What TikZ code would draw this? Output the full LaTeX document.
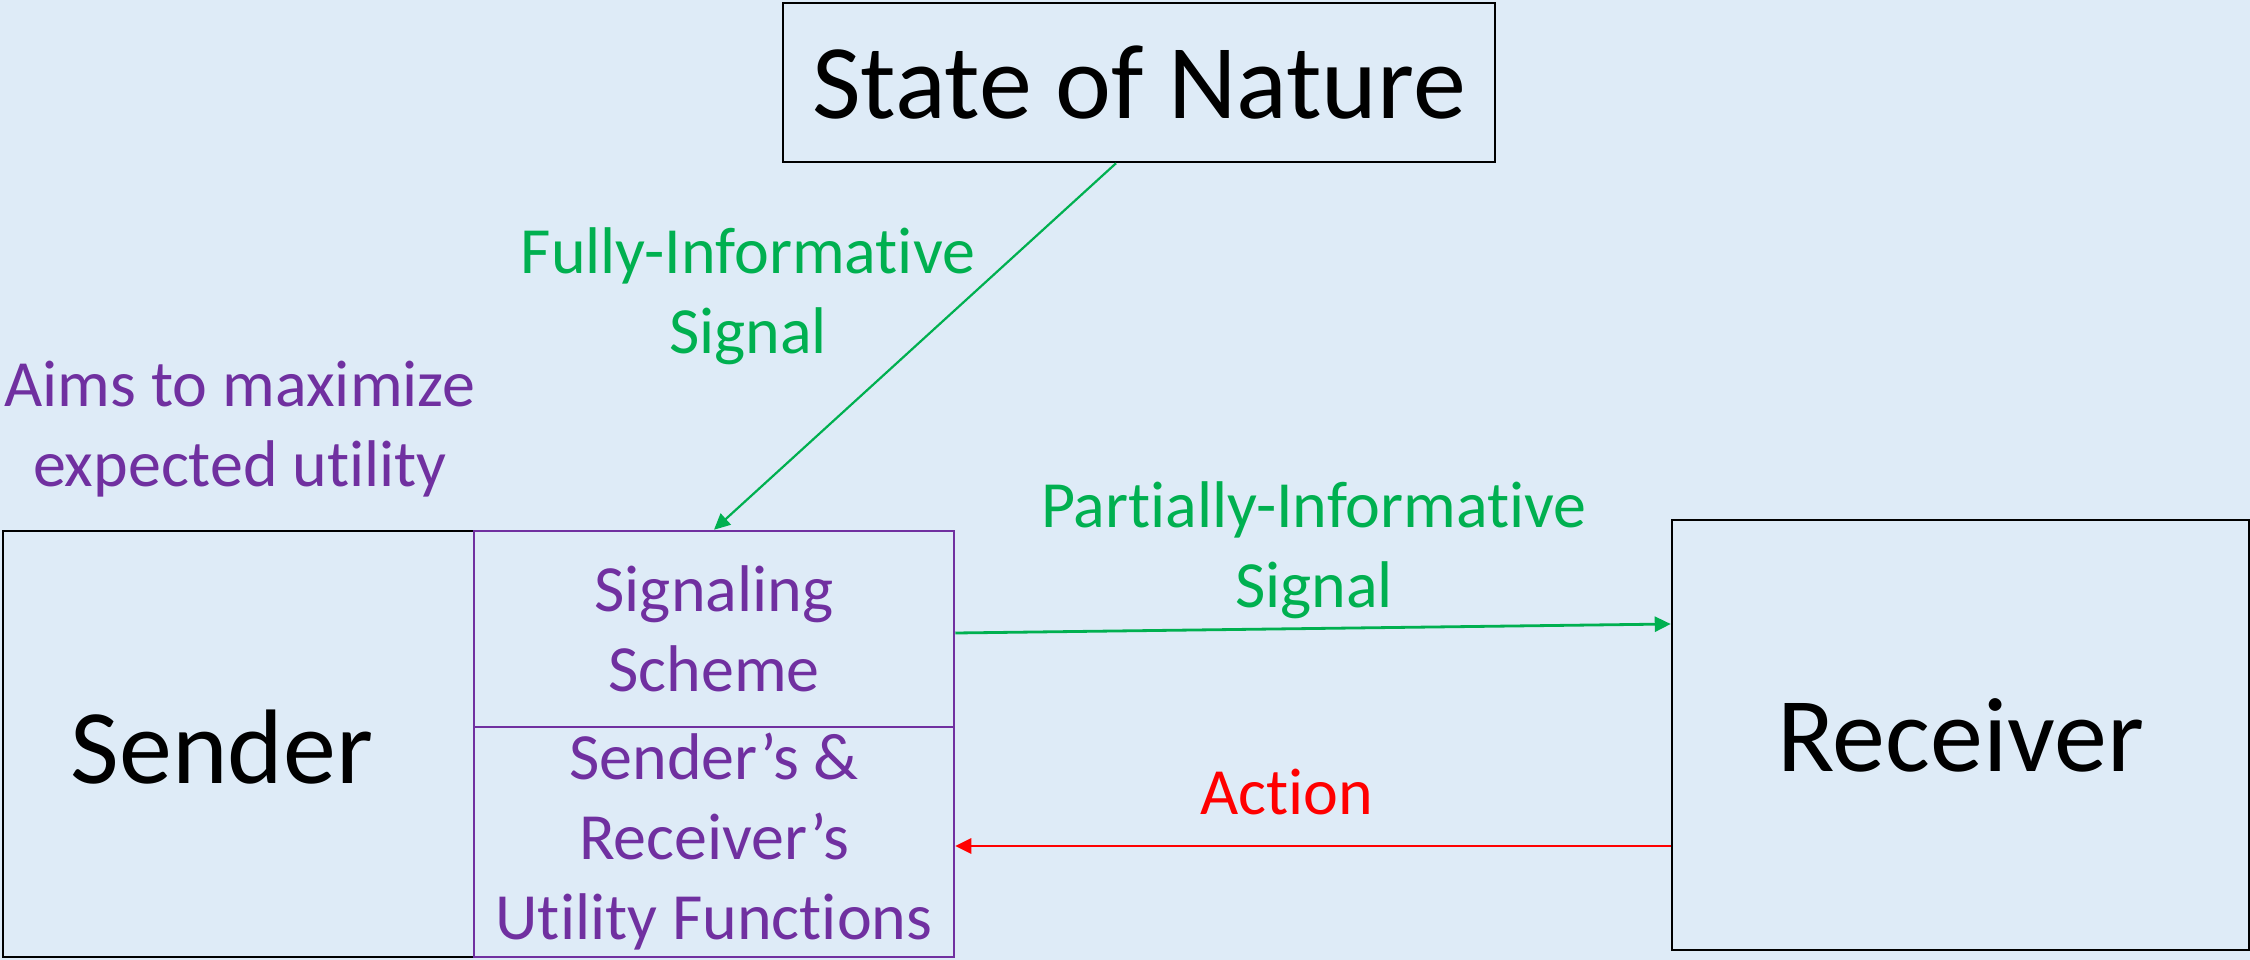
\documentclass[tikz,border=0pt]{standalone}
\usepackage{fontspec}
\setmainfont{Carlito}[Ligatures=NoCommon]
\usetikzlibrary{arrows.meta}
\definecolor{bg}{HTML}{DEEBF7}
\definecolor{purp}{HTML}{7030A0}
\definecolor{grn}{HTML}{00B050}
\definecolor{rd}{HTML}{FF0000}
\tikzset{
  bigbox/.style={draw=black, line width=2.5pt, fill=bg, inner sep=0pt, font=\fontsize{106}{125}\selectfont},
  purpbox/.style={draw=purp, line width=2.5pt, fill=bg, inner sep=0pt, text=purp, align=center, font=\fontsize{66}{80}\selectfont},
  lbl/.style={inner sep=0pt, align=center, font=\fontsize{66}{80}\selectfont},
  garrow/.style={draw=grn, -{Triangle[length=16pt,width=15pt]}},
  rarrow/.style={draw=rd, line width=2.8pt, -{Triangle[length=16pt,width=15pt]}}
}
\begin{document}
\begin{tikzpicture}[x=1pt,y=-1pt]
\fill[bg] (0,0) rectangle (2250,960);
\useasboundingbox (0,0) rectangle (2250,960);

\node[bigbox, minimum width=712pt, minimum height=159pt] (son) at (1139,82.5) {State of Nature};
\node[bigbox, minimum width=471pt, minimum height=426pt] (sender) at (238.5,744) {};
\node[inner sep=0pt, font=\fontsize{106}{125}\selectfont] (sendertxt) at (222,747) {Sender};
\node[bigbox, minimum width=577pt, minimum height=430pt] (rec) at (1960.5,735) {Receiver};
\node[purpbox, minimum width=480pt, minimum height=196pt] (sig) at (714,629) {Signaling\\Scheme};
\node[purpbox, minimum width=480pt, minimum height=230pt] (util) at (714,842) {Sender’s \&\\Receiver’s\\Utility Functions};

\node[lbl, text=purp] (aims) at (240,429) {Aims to maximize\\expected utility};
\node[lbl, text=grn] (full) at (748,296) {Fully-Informative\\Signal};
\node[lbl, text=grn] (part) at (1314,550) {Partially-Informative\\Signal};
\node[lbl, text=rd] (act) at (1287,792) {Action};

\draw[garrow, line width=2.2pt] ([xshift=-23pt]son.south) -- (sig.north);
\draw[garrow, line width=2.8pt] ([yshift=-4pt]sig.east) -- ([yshift=111pt]rec.west);
\draw[rarrow] ([yshift=-111pt]rec.west) -- ([yshift=-4pt]util.east);
\end{tikzpicture}
\end{document}
